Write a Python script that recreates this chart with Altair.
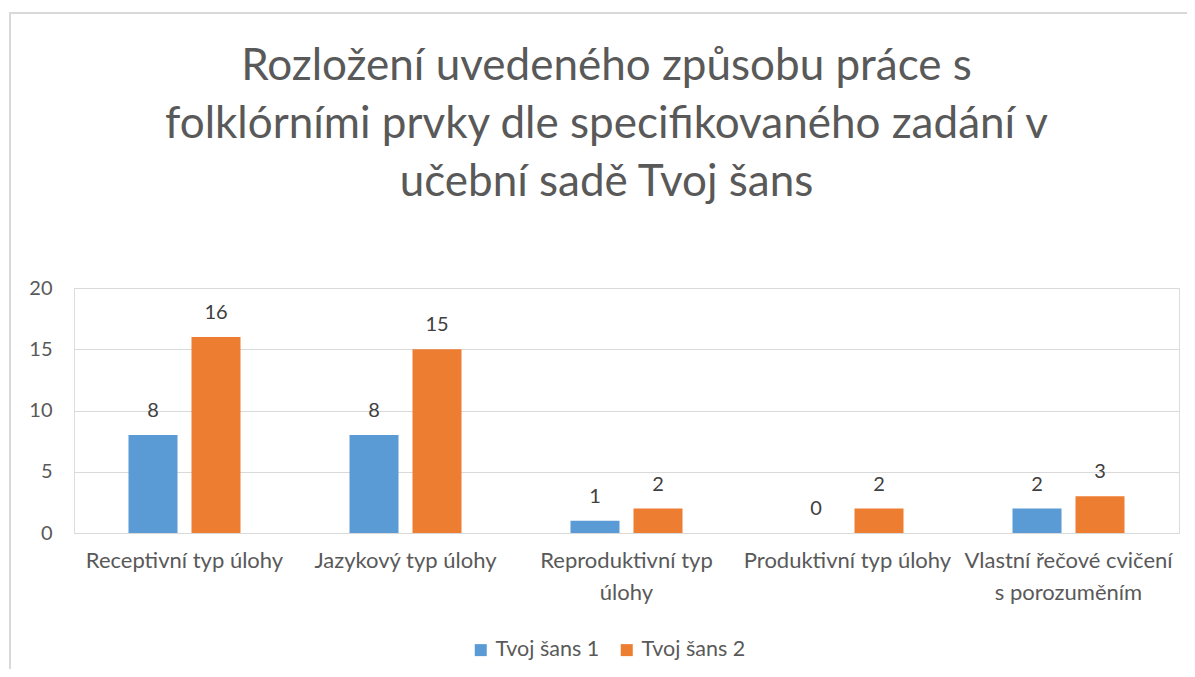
import altair as alt
import pandas as pd

categories = [
    "Receptivní typ úlohy",
    "Jazykový typ úlohy",
    "Reproduktivní typ\núlohy",
    "Produktivní typ úlohy",
    "Vlastní řečové cvičení\ns porozuměním",
]
series = ["Tvoj šans 1", "Tvoj šans 2"]
values_1 = [8, 8, 1, 0, 2]
values_2 = [16, 15, 2, 2, 3]
colors = ["#5b9bd5", "#ed7d31"]
title_lines = [
    "Rozložení uvedeného způsobu práce s",
    "folklórními prvky dle specifikovaného zadání v",
    "učební sadě Tvoj šans",
]

rows = []
for c, v1, v2 in zip(categories, values_1, values_2):
    rows.append({"cat": c, "series": series[0], "value": v1})
    rows.append({"cat": c, "series": series[1], "value": v2})
df = pd.DataFrame(rows)

FONT = "Lato"
GREY = "#595959"
W, H = 1105, 245

x = alt.X(
    "cat:N",
    sort=categories,
    scale=alt.Scale(paddingInner=0, paddingOuter=0),
    axis=alt.Axis(
        title=None,
        labelAngle=0,
        labelExpr="split(datum.label, '\\n')",
        labelFont=FONT,
        labelFontSize=22,
        labelColor=GREY,
        labelPadding=17,
        labelLineHeight=32,
        labelLimit=0,
        ticks=False,
        domainColor="#d9d9d9",
        labelBaseline="top",
    ),
)
xoff = alt.XOffset(
    "series:N", sort=series, scale=alt.Scale(paddingInner=0.222, paddingOuter=0.865)
)

base = alt.Chart(df)

bars = base.mark_bar().encode(
    x=x,
    xOffset=xoff,
    y=alt.Y(
        "value:Q",
        scale=alt.Scale(domain=[0, 20]),
        axis=alt.Axis(
            title=None,
            values=[0, 5, 10, 15, 20],
            labelFont=FONT,
            labelFontSize=20,
            labelColor=GREY,
            labelPadding=22,
            ticks=False,
            domain=False,
            gridColor="#d9d9d9",
        ),
    ),
    color=alt.Color(
        "series:N",
        sort=series,
        scale=alt.Scale(domain=series, range=colors),
        legend=alt.Legend(
            title=None,
            orient="none",
            legendX=396,
            legendY=351,
            direction="horizontal",
            symbolType="square",
            symbolSize=144,
            symbolStrokeWidth=0,
            labelFont=FONT,
            labelFontSize=21.5,
            labelColor=GREY,
            labelLimit=0,
            columnPadding=16,
            labelOffset=4,
        ),
    ),
)

labels = base.mark_text(
    font=FONT, fontSize=20, color="#404040", baseline="alphabetic", dy=-18
).encode(x=x, xOffset=xoff, y="value:Q", text="value:Q")

border = base.mark_rect(fill=None, stroke="#d9d9d9", strokeWidth=1.5).encode(
    x=alt.value(-64), x2=alt.value(W + 40), y=alt.value(-275), y2=alt.value(H + 200)
)

chart = (
    alt.layer(border, bars, labels)
    .properties(
        width=W,
        height=H,
        autosize=alt.AutoSizeParams(type="none"),
        padding={"left": 66, "top": 280, "right": 8, "bottom": 136},
        title=alt.TitleParams(
            text=title_lines,
            font=FONT,
            fontSize=44,
            fontWeight="normal",
            color=GREY,
            anchor="middle",
            lineHeight=58,
            dx=-20,
            offset=-193,
        ),
    )
    .configure_view(stroke=None)
    .configure(background="white")
)

chart.save("out.html", embed_options={"renderer": "svg", "actions": False})
